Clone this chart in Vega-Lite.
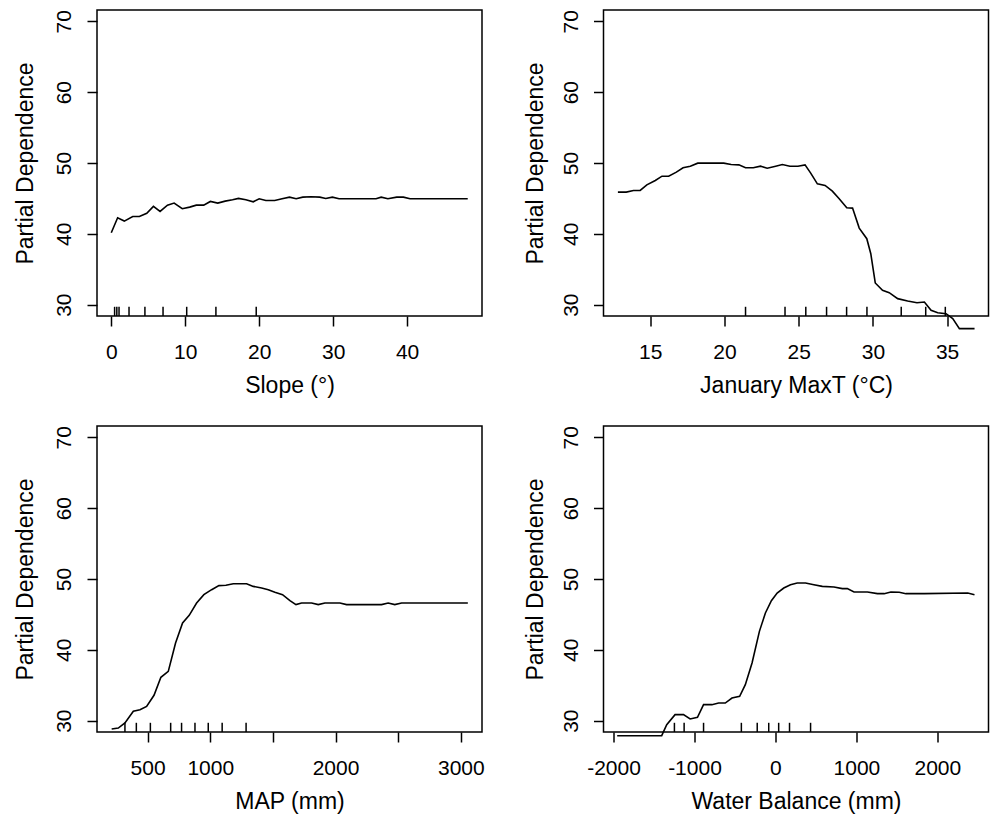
{
  "$schema": "https://vega.github.io/schema/vega-lite/v6.json",
  "padding": {"left": 13, "top": 8, "right": 0, "bottom": 0},
  "background": "white",
  "config": {
    "font": "Liberation Sans",
    "view": {"stroke": "#000", "strokeWidth": 1.5},
    "axis": {
      "domain": false, "grid": false, "ticks": true, "tickSize": 10, "tickColor": "#000", "tickWidth": 1.5,
      "labelFont": "Liberation Sans", "labelFontSize": 21, "labelColor": "#000",
      "titleFont": "Liberation Sans", "titleFontSize": 23, "titleFontWeight": "normal", "titleColor": "#000",
      "labelFlush": false, "labelOverlap": false
    },
    "axisX": {"labelBaseline": "alphabetic", "labelPadding": 32, "titleBaseline": "alphabetic", "titleY": 76.5},
    "axisY": {"labelAngle": 270, "labelAlign": "center", "labelBaseline": "alphabetic", "labelPadding": 16.5, "titleBaseline": "alphabetic", "titleAngle": 270}
  },
  "datasets": {
    "slope": [
      {"x": 0, "y": 40.15}, {"x": 0.86, "y": 42.27}, {"x": 1.76, "y": 41.8}, {"x": 2.9, "y": 42.45}, {"x": 3.8, "y": 42.45},
      {"x": 4.8, "y": 42.9}, {"x": 5.7, "y": 43.87}, {"x": 6.6, "y": 43.16}, {"x": 7.6, "y": 44.05}, {"x": 8.5, "y": 44.34},
      {"x": 9.6, "y": 43.54}, {"x": 10.6, "y": 43.77}, {"x": 11.5, "y": 44.05}, {"x": 12.5, "y": 44.05}, {"x": 13.4, "y": 44.57},
      {"x": 14.4, "y": 44.34}, {"x": 15.4, "y": 44.62}, {"x": 16.4, "y": 44.81}, {"x": 17.2, "y": 45.0}, {"x": 18.2, "y": 44.81},
      {"x": 19.2, "y": 44.52}, {"x": 20.0, "y": 44.95}, {"x": 20.9, "y": 44.71}, {"x": 22.1, "y": 44.71}, {"x": 23.1, "y": 44.95},
      {"x": 24.1, "y": 45.18}, {"x": 25.0, "y": 44.95}, {"x": 25.9, "y": 45.18}, {"x": 27.0, "y": 45.23}, {"x": 28.2, "y": 45.18},
      {"x": 29.0, "y": 45.0}, {"x": 29.9, "y": 45.18}, {"x": 30.8, "y": 44.95}, {"x": 32.7, "y": 44.95}, {"x": 34.5, "y": 44.95},
      {"x": 35.8, "y": 44.95}, {"x": 36.5, "y": 45.18}, {"x": 37.4, "y": 44.95}, {"x": 38.6, "y": 45.18}, {"x": 39.5, "y": 45.18},
      {"x": 40.4, "y": 44.95}, {"x": 48.2, "y": 44.95}
    ],
    "slope_rug": [{"x": 0.45}, {"x": 0.75}, {"x": 1.05}, {"x": 2.4}, {"x": 4.55}, {"x": 7.0}, {"x": 10.2}, {"x": 14.15}, {"x": 19.6}],
    "jan": [
      {"x": 12.82, "y": 45.89}, {"x": 13.38, "y": 45.89}, {"x": 13.87, "y": 46.12}, {"x": 14.32, "y": 46.12}, {"x": 14.77, "y": 46.92},
      {"x": 15.34, "y": 47.53}, {"x": 15.79, "y": 48.14}, {"x": 16.24, "y": 48.14}, {"x": 16.76, "y": 48.71}, {"x": 17.21, "y": 49.32},
      {"x": 17.7, "y": 49.55}, {"x": 18.2, "y": 49.98}, {"x": 18.83, "y": 49.98}, {"x": 19.46, "y": 49.98}, {"x": 19.95, "y": 49.98},
      {"x": 20.45, "y": 49.79}, {"x": 20.97, "y": 49.74}, {"x": 21.42, "y": 49.32}, {"x": 21.94, "y": 49.32}, {"x": 22.43, "y": 49.55},
      {"x": 22.88, "y": 49.27}, {"x": 23.45, "y": 49.55}, {"x": 23.9, "y": 49.79}, {"x": 24.41, "y": 49.55}, {"x": 24.95, "y": 49.55},
      {"x": 25.43, "y": 49.74}, {"x": 25.81, "y": 48.57}, {"x": 26.26, "y": 47.06}, {"x": 26.78, "y": 46.83}, {"x": 27.27, "y": 46.03},
      {"x": 27.73, "y": 44.95}, {"x": 28.24, "y": 43.68}, {"x": 28.63, "y": 43.63}, {"x": 29.08, "y": 40.81}, {"x": 29.59, "y": 39.31},
      {"x": 29.86, "y": 37.19}, {"x": 30.16, "y": 33.06}, {"x": 30.65, "y": 32.02}, {"x": 31.1, "y": 31.69}, {"x": 31.67, "y": 30.85},
      {"x": 32.34, "y": 30.52}, {"x": 32.97, "y": 30.28}, {"x": 33.47, "y": 30.38}, {"x": 33.92, "y": 29.2}, {"x": 34.37, "y": 28.87},
      {"x": 34.93, "y": 28.73}, {"x": 35.38, "y": 28.03}, {"x": 35.83, "y": 26.62}, {"x": 36.85, "y": 26.62}
    ],
    "jan_rug": [{"x": 21.42}, {"x": 24.08}, {"x": 25.48}, {"x": 26.88}, {"x": 28.23}, {"x": 29.6}, {"x": 31.91}, {"x": 33.56}, {"x": 34.88}],
    "map": [
      {"x": 213, "y": 28.82}, {"x": 266, "y": 28.96}, {"x": 319, "y": 29.67}, {"x": 386, "y": 31.32}, {"x": 439, "y": 31.55},
      {"x": 492, "y": 32.02}, {"x": 551, "y": 33.58}, {"x": 606, "y": 36.12}, {"x": 665, "y": 36.96}, {"x": 723, "y": 40.96},
      {"x": 779, "y": 43.79}, {"x": 832, "y": 44.87}, {"x": 891, "y": 46.61}, {"x": 949, "y": 47.79}, {"x": 1011, "y": 48.49},
      {"x": 1069, "y": 49.06}, {"x": 1125, "y": 49.11}, {"x": 1184, "y": 49.34}, {"x": 1290, "y": 49.34}, {"x": 1343, "y": 48.96},
      {"x": 1410, "y": 48.73}, {"x": 1463, "y": 48.49}, {"x": 1516, "y": 48.12}, {"x": 1577, "y": 47.79}, {"x": 1636, "y": 46.94},
      {"x": 1684, "y": 46.38}, {"x": 1729, "y": 46.61}, {"x": 1809, "y": 46.61}, {"x": 1862, "y": 46.38}, {"x": 1915, "y": 46.61},
      {"x": 2035, "y": 46.61}, {"x": 2088, "y": 46.38}, {"x": 2247, "y": 46.38}, {"x": 2367, "y": 46.38}, {"x": 2420, "y": 46.61},
      {"x": 2473, "y": 46.38}, {"x": 2527, "y": 46.61}, {"x": 2779, "y": 46.61}, {"x": 3056, "y": 46.61}
    ],
    "map_rug": [{"x": 319}, {"x": 410}, {"x": 522}, {"x": 684}, {"x": 771}, {"x": 878}, {"x": 984}, {"x": 1095}, {"x": 1286}],
    "wb": [
      {"x": -1955, "y": 27.88}, {"x": -1405, "y": 27.88}, {"x": -1343, "y": 29.44}, {"x": -1240, "y": 30.85}, {"x": -1136, "y": 30.85},
      {"x": -1054, "y": 30.24}, {"x": -963, "y": 30.47}, {"x": -888, "y": 32.26}, {"x": -785, "y": 32.26}, {"x": -702, "y": 32.49},
      {"x": -620, "y": 32.49}, {"x": -537, "y": 33.2}, {"x": -442, "y": 33.44}, {"x": -372, "y": 35.08}, {"x": -289, "y": 38.14},
      {"x": -198, "y": 42.61}, {"x": -124, "y": 45.2}, {"x": -50, "y": 46.94}, {"x": 21, "y": 48.02}, {"x": 103, "y": 48.73},
      {"x": 186, "y": 49.2}, {"x": 269, "y": 49.44}, {"x": 372, "y": 49.44}, {"x": 475, "y": 49.2}, {"x": 579, "y": 48.96},
      {"x": 723, "y": 48.87}, {"x": 826, "y": 48.64}, {"x": 888, "y": 48.64}, {"x": 971, "y": 48.16}, {"x": 1136, "y": 48.16},
      {"x": 1260, "y": 47.93}, {"x": 1343, "y": 47.93}, {"x": 1426, "y": 48.16}, {"x": 1529, "y": 48.12}, {"x": 1612, "y": 47.93},
      {"x": 1839, "y": 47.93}, {"x": 2376, "y": 48.02}, {"x": 2459, "y": 47.79}
    ],
    "wb_rug": [{"x": -1248}, {"x": -1128}, {"x": -888}, {"x": -421}, {"x": -225}, {"x": -83}, {"x": 40}, {"x": 174}, {"x": 434}]
  },
  "columns": 2,
  "bounds": "flush",
  "align": "all",
  "spacing": {"row": 110, "column": 121.5},
  "concat": [
    {
      "width": 385, "height": 306,
      "encoding": {
        "x": {"field": "x", "type": "quantitative", "title": "Slope (°)",
              "scale": {"domain": [-1.93, 50.13], "nice": false, "zero": false},
              "axis": {"values": [0, 10, 20, 30, 40], "labelExpr": "'' + datum.value"}}
      },
      "layer": [
        {"data": {"name": "slope"}, "mark": {"type": "line", "color": "#000", "strokeWidth": 1.6},
         "encoding": {"y": {"field": "y", "type": "quantitative", "title": "Partial Dependence",
                            "scale": {"domain": [28.4, 71.6], "nice": false, "zero": false},
                            "axis": {"values": [30, 40, 50, 60, 70], "titleX": -65}}}},
        {"data": {"name": "slope_rug"}, "mark": {"type": "rule", "color": "#000", "strokeWidth": 1.5},
         "encoding": {"y": {"datum": 28.4, "type": "quantitative", "title": "Partial Dependence",
                            "axis": {"values": [30, 40, 50, 60, 70], "titleX": -65}}, "y2": {"datum": 29.7}}}
      ]
    },
    {
      "width": 385, "height": 306,
      "encoding": {
        "x": {"field": "x", "type": "quantitative", "title": "January MaxT (°C)",
              "scale": {"domain": [11.85, 37.79], "nice": false, "zero": false},
              "axis": {"values": [15, 20, 25, 30, 35], "labelExpr": "'' + datum.value"}}
      },
      "layer": [
        {"data": {"name": "jan"}, "mark": {"type": "line", "color": "#000", "strokeWidth": 1.6},
         "encoding": {"y": {"field": "y", "type": "quantitative", "title": "Partial Dependence",
                            "scale": {"domain": [28.4, 71.6], "nice": false, "zero": false},
                            "axis": {"values": [30, 40, 50, 60, 70], "titleX": -61}}}},
        {"data": {"name": "jan_rug"}, "mark": {"type": "rule", "color": "#000", "strokeWidth": 1.5},
         "encoding": {"y": {"datum": 28.4, "type": "quantitative", "title": "Partial Dependence",
                            "axis": {"values": [30, 40, 50, 60, 70], "titleX": -61}}, "y2": {"datum": 29.7}}}
      ]
    },
    {
      "width": 385, "height": 306,
      "encoding": {
        "x": {"field": "x", "type": "quantitative", "title": "MAP (mm)",
              "scale": {"domain": [96, 3169], "nice": false, "zero": false},
              "axis": {"values": [500, 1000, 1500, 2000, 2500, 3000], "labelExpr": "datum.value == 1500 || datum.value == 2500 ? '' : '' + datum.value"}}
      },
      "layer": [
        {"data": {"name": "map"}, "mark": {"type": "line", "color": "#000", "strokeWidth": 1.6},
         "encoding": {"y": {"field": "y", "type": "quantitative", "title": "Partial Dependence",
                            "scale": {"domain": [28.4, 71.6], "nice": false, "zero": false},
                            "axis": {"values": [30, 40, 50, 60, 70], "titleX": -65}}}},
        {"data": {"name": "map_rug"}, "mark": {"type": "rule", "color": "#000", "strokeWidth": 1.5},
         "encoding": {"y": {"datum": 28.4, "type": "quantitative", "title": "Partial Dependence",
                            "axis": {"values": [30, 40, 50, 60, 70], "titleX": -65}}, "y2": {"datum": 29.7}}}
      ]
    },
    {
      "width": 385, "height": 306,
      "encoding": {
        "x": {"field": "x", "type": "quantitative", "title": "Water Balance (mm)",
              "scale": {"domain": [-2124, 2632], "nice": false, "zero": false},
              "axis": {"values": [-2000, -1000, 0, 1000, 2000], "labelExpr": "'' + datum.value"}}
      },
      "layer": [
        {"data": {"name": "wb"}, "mark": {"type": "line", "color": "#000", "strokeWidth": 1.6},
         "encoding": {"y": {"field": "y", "type": "quantitative", "title": "Partial Dependence",
                            "scale": {"domain": [28.4, 71.6], "nice": false, "zero": false},
                            "axis": {"values": [30, 40, 50, 60, 70], "titleX": -61}}}},
        {"data": {"name": "wb_rug"}, "mark": {"type": "rule", "color": "#000", "strokeWidth": 1.5},
         "encoding": {"y": {"datum": 28.4, "type": "quantitative", "title": "Partial Dependence",
                            "axis": {"values": [30, 40, 50, 60, 70], "titleX": -61}}, "y2": {"datum": 29.7}}}
      ]
    }
  ]
}
